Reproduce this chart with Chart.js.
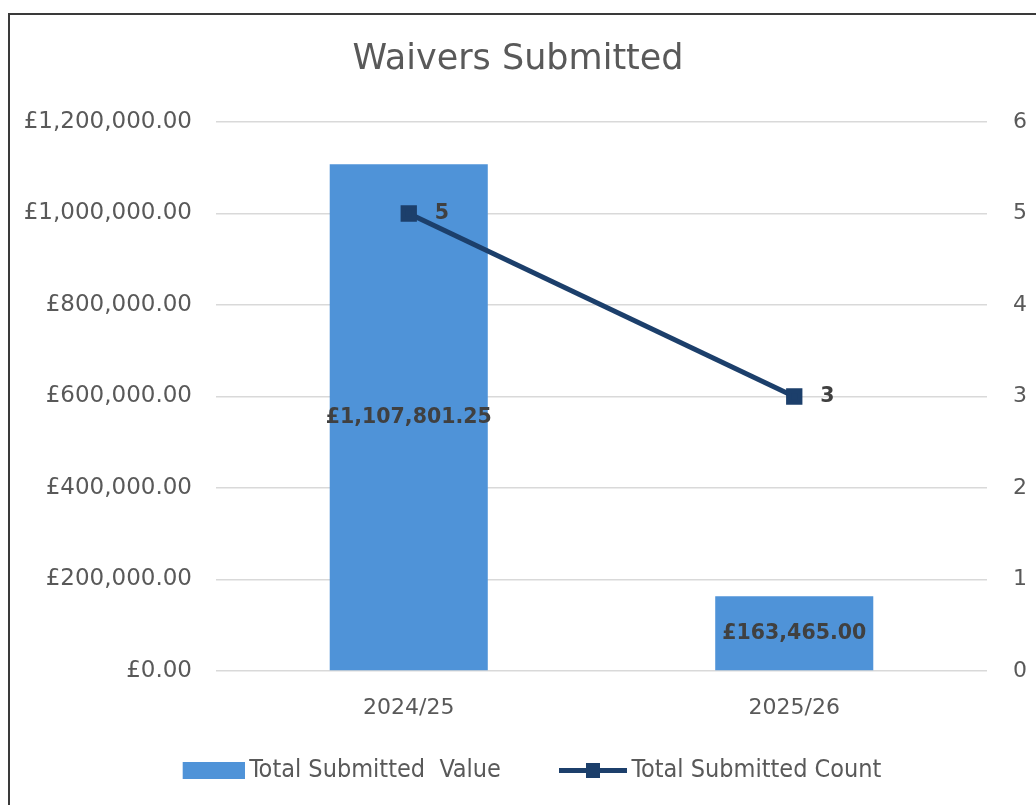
<!DOCTYPE html>
<html>
<head>
<meta charset="utf-8">
<script src="https://cdn.jsdelivr.net/npm/chart.js@4/dist/chart.umd.min.js"></script>
<style>
  html, body { margin: 0; padding: 0; background: #fff; overflow: hidden; }
  #wrap { position: relative; width: 1036px; height: 805px; }
  #frame { position: absolute; left: 8px; top: 13px; width: 1060px; height: 820px;
           border: 2px solid #3a3a3a; pointer-events: none; }
</style>
</head>
<body>
<div id="wrap">
  <canvas id="wavChart" width="1036" height="805"></canvas>
  <div id="frame"></div>
</div>
<script>
// dane wykresu
const years = ['2024/25', '2025/26'];
const submittedValue = [1107801.25, 163465.00];
const submittedCount = [5, 3];
const valueTicks = [0, 200000, 400000, 600000, 800000, 1000000, 1200000];
const countTicks = [0, 1, 2, 3, 4, 5, 6];

const barColor = '#4f93d8';
const lineColor = '#1c3f6b';
const textColor = '#595959';

Chart.defaults.font.family = '"DejaVu Sans", sans-serif';
Chart.defaults.color = textColor;

function money(v) {
    return '£' + v.toLocaleString('en-GB', { minimumFractionDigits: 2, maximumFractionDigits: 2 });
}

// ikonki legendy - obie tej samej szerokosci, pusty margines z lewej
const ICON_W = 98;
function barIcon() {
    const c = document.createElement('canvas');
    c.width = ICON_W; c.height = 17;
    const g = c.getContext('2d');
    g.fillStyle = barColor;
    g.fillRect(ICON_W - 62, 0, 62, 17);
    return c;
}
function lineIcon() {
    const c = document.createElement('canvas');
    c.width = ICON_W; c.height = 17;
    const g = c.getContext('2d');
    g.fillStyle = lineColor;
    g.fillRect(ICON_W - 68, 6, 68, 5);
    g.fillRect(ICON_W - 41, 1, 14, 15);
    return c;
}

// etykiety danych
const dataLabels = {
    id: 'dataLabels',
    afterDatasetsDraw(chart) {
        const ctx = chart.ctx;
        ctx.save();
        ctx.fillStyle = '#404040';
        ctx.font = 'bold 20.5px "DejaVu Sans", sans-serif';
        ctx.textBaseline = 'middle';
        const barMeta = chart.getDatasetMeta(0);
        barMeta.data.forEach((el, i) => {
            ctx.textAlign = 'center';
            ctx.fillText(money(submittedValue[i]), el.x, (el.y + el.base) / 2);
        });
        const lineMeta = chart.getDatasetMeta(1);
        lineMeta.data.forEach((el, i) => {
            ctx.textAlign = 'left';
            ctx.fillText(String(submittedCount[i]), el.x + 26, el.y);
        });
        ctx.restore();
    }
};

const ctx = document.getElementById('wavChart').getContext('2d');

const chart = new Chart(ctx, {
    type: 'bar',
    data: {
        labels: years,
        datasets: [{
            type: 'bar',
            label: 'Total Submitted  Value',
            data: submittedValue,
            backgroundColor: barColor,
            borderWidth: 0,
            barPercentage: 0.41,
            categoryPercentage: 1.0,
            yAxisID: 'y',
            order: 1
        }, {
            type: 'line',
            label: 'Total Submitted Count',
            data: submittedCount,
            borderColor: lineColor,
            backgroundColor: lineColor,
            borderWidth: 5,
            pointStyle: 'rect',
            pointRadius: 8,
            pointHoverRadius: 8,
            yAxisID: 'y1',
            order: 0
        }]
    },
    options: {
        responsive: false,
        animation: false,
        layout: { padding: { left: 0, right: 0, top: 0, bottom: 12 } },
        plugins: {
            title: {
                display: true,
                text: 'Waivers Submitted',
                color: textColor,
                font: { size: 35, weight: 'normal' },
                padding: { top: 39, bottom: 41 }
            },
            legend: {
                position: 'bottom',
                labels: {
                    usePointStyle: true,
                    pointStyleWidth: ICON_W - 16,
                    padding: 36,
                    color: textColor,
                    font: { size: 25, family: '"DejaVu Sans Condensed", "DejaVu Sans", sans-serif' },
                    generateLabels(chart) {
                        const icons = [barIcon(), lineIcon()];
                        return chart.data.datasets.map((ds, i) => ({
                            text: ds.label,
                            datasetIndex: i,
                            pointStyle: icons[i],
                            fillStyle: 'rgba(0,0,0,0)',
                            strokeStyle: 'rgba(0,0,0,0)',
                            lineWidth: 0,
                            fontColor: textColor,
                            hidden: false
                        }));
                    }
                }
            },
            tooltip: { enabled: false }
        },
        scales: {
            x: {
                grid: { display: false, drawTicks: false },
                border: { display: false },
                ticks: { padding: 24, font: { size: 22 }, color: textColor },
                afterFit(scale) { scale.height = 51; }
            },
            y: {
                position: 'left',
                min: 0,
                max: 1200000,
                afterBuildTicks(scale) { scale.ticks = valueTicks.map(v => ({ value: v })); },
                ticks: {
                    padding: 24,
                    font: { size: 23 },
                    color: textColor,
                    callback: v => money(v)
                },
                grid: { color: '#d9d9d9', lineWidth: 1.5, drawTicks: false },
                border: { display: false },
                afterFit(scale) { scale.width = 216; }
            },
            y1: {
                position: 'right',
                min: 0,
                max: 6,
                afterBuildTicks(scale) { scale.ticks = countTicks.map(v => ({ value: v })); },
                ticks: { padding: 26, font: { size: 22 }, color: textColor },
                grid: { display: false, drawTicks: false },
                border: { display: false },
                afterFit(scale) { scale.width = 49; }
            }
        }
    },
    plugins: [dataLabels]
});
</script>
</body>
</html>
